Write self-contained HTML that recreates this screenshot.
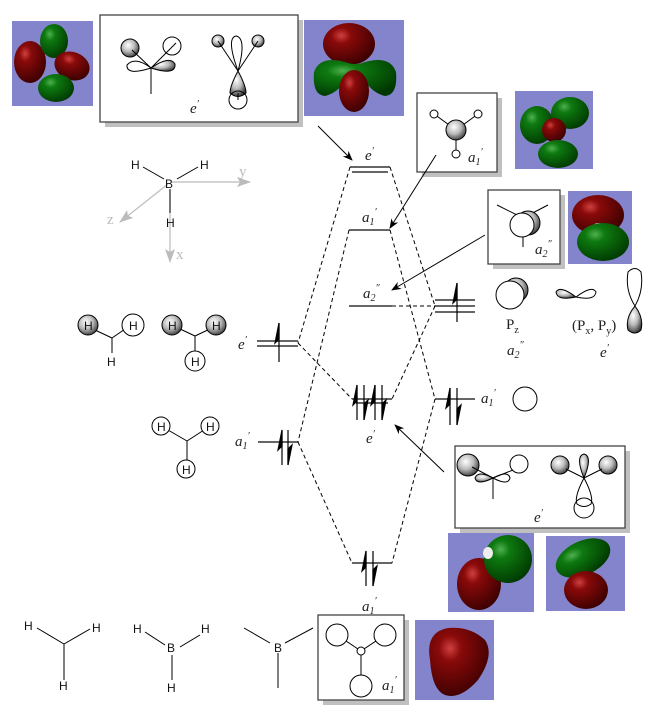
<!DOCTYPE html>
<html><head><meta charset="utf-8"><style>
html,body{margin:0;padding:0;background:#fff;width:662px;height:718px;overflow:hidden}
svg{display:block}
.it{font-family:"Liberation Serif",serif;font-style:italic;font-size:15px;fill:#222}
.rm{font-family:"Liberation Serif",serif;font-size:15px;fill:#222}
.sf{font-family:"Liberation Sans",sans-serif;font-size:12px;fill:#111}
.s{font-size:10px}
</style></head><body>
<svg width="662" height="718" viewBox="0 0 662 718" xmlns="http://www.w3.org/2000/svg">
<defs>
<radialGradient id="rd" cx="35%" cy="30%" r="75%"><stop offset="0" stop-color="#d04040"/><stop offset="0.25" stop-color="#8a0a0a"/><stop offset="1" stop-color="#3a0000"/></radialGradient>
<radialGradient id="gr" cx="35%" cy="30%" r="75%"><stop offset="0" stop-color="#50b050"/><stop offset="0.25" stop-color="#0e7a10"/><stop offset="1" stop-color="#003800"/></radialGradient>
<radialGradient id="gy" cx="40%" cy="35%" r="70%"><stop offset="0" stop-color="#fff"/><stop offset="0.5" stop-color="#bbb"/><stop offset="1" stop-color="#333"/></radialGradient>
<marker id="ah" markerWidth="10" markerHeight="8" refX="9" refY="4" orient="auto" markerUnits="userSpaceOnUse"><path d="M0,0 L10,4 L0,8 L3,4Z" fill="#000"/></marker>
<marker id="ag" markerWidth="14" markerHeight="10" refX="13" refY="5" orient="auto" markerUnits="userSpaceOnUse"><path d="M0,0 L14,5 L0,10 L3,5Z" fill="#bbb"/></marker>
</defs>

<rect x="12" y="21" width="81" height="85" fill="#8484cc"/>
<ellipse cx="30" cy="62" rx="16" ry="21" fill="url(#rd)"/>
<ellipse cx="54" cy="41" rx="14" ry="17" fill="url(#gr)"/>
<ellipse cx="72" cy="66" rx="18" ry="14" transform="rotate(20 72 66)" fill="url(#rd)"/>
<ellipse cx="56" cy="88" rx="18" ry="14" fill="url(#gr)"/>

<rect x="304" y="20" width="100" height="96" fill="#8484cc"/>
<ellipse cx="349" cy="44" rx="26" ry="21" fill="url(#rd)"/>
<path d="M314,72 Q320,55 345,62 Q355,66 365,62 Q390,55 396,72 Q398,95 385,96 Q370,92 364,78 L346,78 Q340,92 325,96 Q312,95 314,72Z" fill="url(#gr)"/>
<ellipse cx="354" cy="91" rx="15" ry="21" fill="url(#rd)"/>

<rect x="515" y="91" width="78" height="78" fill="#8484cc"/>
<ellipse cx="537" cy="125" rx="17" ry="19" fill="url(#gr)"/>
<ellipse cx="570" cy="113" rx="19" ry="16" fill="url(#gr)"/>
<ellipse cx="554" cy="130" rx="12" ry="12" fill="url(#rd)"/>
<ellipse cx="558" cy="154" rx="20" ry="14" fill="url(#gr)"/>

<rect x="568" y="191" width="64" height="73" fill="#8484cc"/>
<ellipse cx="598" cy="215" rx="26" ry="20" fill="url(#rd)"/>
<ellipse cx="598" cy="227" rx="5" ry="4" fill="#ddd"/>
<ellipse cx="603" cy="242" rx="26" ry="19" fill="url(#gr)"/>

<rect x="448" y="533" width="86" height="79" fill="#8484cc"/>
<ellipse cx="479" cy="584" rx="22" ry="26" fill="url(#rd)"/>
<ellipse cx="508" cy="559" rx="24" ry="24" fill="url(#gr)"/>
<ellipse cx="488" cy="553" rx="5" ry="6" fill="#eee"/>
<rect x="546" y="536" width="79" height="75" fill="#8484cc"/>
<ellipse cx="583" cy="558" rx="29" ry="17" transform="rotate(-25 583 558)" fill="url(#gr)"/>
<ellipse cx="586" cy="590" rx="22" ry="19" fill="url(#rd)"/>

<rect x="415" y="620" width="79" height="80" fill="#8484cc"/>
<path d="M430,660 Q425,632 448,628 Q470,626 485,640 Q495,655 478,680 Q460,700 445,695 Q432,690 430,660Z" fill="url(#rd)"/>

<g fill="#c0c0c0">
<rect x="105" y="20" width="198" height="107"/>
<rect x="422" y="98" width="80" height="79"/>
<rect x="493" y="195" width="72" height="74"/>
<rect x="460" y="451" width="170" height="82"/>
<rect x="323" y="620" width="86" height="85"/>
</g>
<g fill="#fff" stroke="#444" stroke-width="1.3">
<rect x="100" y="15" width="198" height="107"/>
<rect x="417" y="93" width="80" height="79"/>
<rect x="488" y="190" width="72" height="74"/>
<rect x="455" y="446" width="170" height="82"/>
<rect x="318" y="615" width="86" height="85"/>
</g>

<g stroke="#000" stroke-width="1" fill="none">
<circle cx="130" cy="48" r="9" fill="url(#gy)"/>
<circle cx="172" cy="46" r="9"/>
<line x1="132" y1="50" x2="151" y2="68"/><line x1="151" y1="68" x2="176" y2="43"/>
<line x1="151" y1="68" x2="151" y2="94"/>
<path d="M151,68 Q135,56 127,65 Q126,76 151,68Z"/>
<path d="M151,68 Q170,55 175,64 Q176,76 151,68Z" fill="url(#gy)"/>
<circle cx="218" cy="41" r="6" fill="url(#gy)"/><circle cx="258" cy="41" r="6" fill="url(#gy)"/>
<line x1="218" y1="41" x2="238" y2="71"/><line x1="258" y1="41" x2="238" y2="71"/>
<path d="M238,71 Q226,38 236,36 Q247,38 238,71Z"/>
<path d="M238,71 Q230,86 230,93 Q238,100 246,93 Q246,86 238,71Z" fill="url(#gy)"/>
<circle cx="238" cy="100" r="9"/><line x1="238" y1="93" x2="238" y2="100"/>
</g>
<text x="190" y="113" class="it">e<tspan class="s" dy="-6">′</tspan></text>

<g stroke="#000" stroke-width="1" fill="none">
<line x1="434" y1="114" x2="456" y2="130"/><line x1="478" y1="114" x2="456" y2="130"/><line x1="456" y1="130" x2="456" y2="152"/>
<circle cx="434" cy="114" r="4" fill="#fff"/><circle cx="478" cy="114" r="4" fill="#fff"/><circle cx="456" cy="154" r="4" fill="#fff"/>
<circle cx="456" cy="130" r="10" fill="url(#gy)"/>
</g>
<text x="468" y="162" class="it">a<tspan class="s" dy="3">1</tspan><tspan class="s" dy="-10">′</tspan></text>

<g stroke="#000" stroke-width="1" fill="none">
<line x1="497" y1="205" x2="523" y2="218"/><line x1="548" y1="205" x2="523" y2="218"/><line x1="523" y1="218" x2="523" y2="247"/>
<ellipse cx="528" cy="223" rx="12" ry="12" fill="url(#gy)"/>
<circle cx="522" cy="225" r="12" fill="#fff"/>
</g>
<text x="535" y="254" class="it">a<tspan class="s" dy="3">2</tspan><tspan class="s" dy="-10">″</tspan></text>

<g stroke="#000" stroke-width="1" fill="none">
<circle cx="468" cy="465" r="11" fill="url(#gy)"/><circle cx="519" cy="464" r="9"/>
<line x1="472" y1="467" x2="493" y2="478"/><line x1="493" y1="478" x2="513" y2="470"/><line x1="493" y1="478" x2="493" y2="499"/>
<path d="M493,478 Q478,470 475,478 Q477,486 493,478Z" fill="url(#gy)"/>
<path d="M493,478 Q508,470 510,478 Q508,486 493,478Z"/>
<circle cx="560" cy="465" r="9" fill="url(#gy)"/><circle cx="608" cy="465" r="9" fill="url(#gy)"/>
<line x1="566" y1="469" x2="584" y2="478"/><line x1="602" y1="469" x2="584" y2="478"/>
<path d="M584,478 Q575,456 584,454 Q593,456 584,478Z" fill="url(#gy)"/>
<path d="M584,478 Q574,497 577,504 Q584,509 591,504 Q594,497 584,478Z"/>
<circle cx="584" cy="508" r="10"/>
</g>
<text x="534" y="522" class="it">e<tspan class="s" dy="-6">′</tspan></text>

<g stroke="#000" stroke-width="1" fill="none">
<line x1="337" y1="635" x2="361" y2="651"/><line x1="385" y1="635" x2="361" y2="651"/><line x1="361" y1="651" x2="361" y2="675"/>
<circle cx="337" cy="635" r="11" fill="#fff"/><circle cx="385" cy="635" r="11" fill="#fff"/><circle cx="361" cy="686" r="11" fill="#fff"/>
<circle cx="361" cy="651" r="4" fill="#fff"/>
</g>
<text x="382" y="690" class="it">a<tspan class="s" dy="3">1</tspan><tspan class="s" dy="-10">′</tspan></text>

<g stroke="#bbb" stroke-width="1.2">
<line x1="172" y1="182" x2="250" y2="182" marker-end="url(#ag)"/>
<line x1="168" y1="184" x2="120" y2="222" marker-end="url(#ag)"/>
<line x1="170" y1="190" x2="170" y2="262" marker-end="url(#ag)"/>
</g>
<text x="239" y="176" class="rm" style="fill:#bbb">y</text>
<text x="107" y="224" class="rm" style="fill:#bbb">z</text>
<text x="176" y="259" class="rm" style="fill:#bbb">x</text>
<g stroke="#000" stroke-width="1"><line x1="143" y1="167" x2="164" y2="179"/><line x1="198" y1="167" x2="177" y2="179"/><line x1="170" y1="189" x2="170" y2="213"/></g>
<text x="165" y="188" class="sf">B</text><text x="131" y="169" class="sf">H</text><text x="200" y="169" class="sf">H</text><text x="166" y="227" class="sf">H</text>

<g stroke="#000" stroke-width="1" fill="none">
<line x1="95" y1="330" x2="112" y2="338"/><line x1="112" y1="338" x2="128" y2="327"/><line x1="112" y1="338" x2="112" y2="353"/>
<circle cx="88" cy="325" r="10" fill="url(#gy)"/><circle cx="133" cy="325" r="11" fill="#fff"/>
<line x1="178" y1="328" x2="195" y2="336"/><line x1="195" y1="336" x2="212" y2="328"/><line x1="195" y1="336" x2="195" y2="352"/>
<circle cx="172" cy="325" r="10" fill="url(#gy)"/><circle cx="216" cy="325" r="10" fill="url(#gy)"/><circle cx="195" cy="361" r="10" fill="#fff"/>
<line x1="168" y1="430" x2="187" y2="441"/><line x1="187" y1="441" x2="204" y2="430"/><line x1="187" y1="441" x2="187" y2="460"/>
<circle cx="161" cy="426" r="9" fill="#fff"/><circle cx="210" cy="426" r="9" fill="#fff"/><circle cx="186" cy="469" r="9" fill="#fff"/>
</g>
<g class="sf"><text x="84" y="330">H</text><text x="129" y="330">H</text><text x="107" y="366">H</text>
<text x="168" y="330">H</text><text x="212" y="330">H</text><text x="191" y="366">H</text>
<text x="157" y="431">H</text><text x="206" y="431">H</text><text x="182" y="474">H</text></g>

<g stroke="#000" stroke-width="1">
<line x1="37" y1="628" x2="64" y2="644"/><line x1="64" y1="644" x2="90" y2="629"/><line x1="64" y1="644" x2="64" y2="680"/>
<line x1="145" y1="632" x2="165" y2="645"/><line x1="180" y1="647" x2="200" y2="635"/><line x1="172" y1="655" x2="172" y2="680"/>
<line x1="244" y1="628" x2="270" y2="643"/><line x1="285" y1="643" x2="313" y2="628"/><line x1="278" y1="653" x2="278" y2="688"/>
</g>
<g class="sf"><text x="24" y="630">H</text><text x="92" y="632">H</text><text x="59" y="690">H</text>
<text x="133" y="633">H</text><text x="201" y="633">H</text><text x="167" y="652">B</text><text x="167" y="692">H</text>
<text x="274" y="652">B</text></g>
<text x="362" y="611" class="it">a<tspan class="s" dy="3">1</tspan><tspan class="s" dy="-10">′</tspan></text>

<g stroke="#000" stroke-width="1">
<circle cx="516" cy="290" r="12" fill="url(#gy)"/>
<circle cx="510" cy="295" r="14" fill="#fff"/>
<path d="M576,297 Q560,285 556,292 Q557,301 576,297Z" fill="url(#gy)"/>
<path d="M576,297 Q592,285 596,292 Q595,301 576,297Z" fill="none"/>
<path d="M635,306 Q625,290 628,272 Q635,265 641,272 Q644,290 635,306Z" fill="none"/>
<path d="M635,306 Q625,318 628,330 Q635,336 641,330 Q644,318 635,306Z" fill="url(#gy)"/>
<circle cx="525" cy="399" r="12" fill="#fff"/>
</g>
<text x="506" y="329" class="rm">P<tspan class="s" dy="4">z</tspan></text>
<text x="572" y="330" class="rm" font-size="14">(P<tspan class="s" dy="4">x</tspan><tspan dy="-4">, P</tspan><tspan class="s" dy="4">y</tspan><tspan dy="-4">)</tspan></text>
<text x="507" y="355" class="it">a<tspan class="s" dy="3">2</tspan><tspan class="s" dy="-10">″</tspan></text>
<text x="600" y="357" class="it">e<tspan class="s" dy="-6">′</tspan></text>

<g stroke="#666" stroke-width="2">
<line x1="350" y1="167" x2="390" y2="167"/><line x1="352" y1="172" x2="388" y2="172"/>
<line x1="349" y1="230" x2="390" y2="230"/>
<line x1="349" y1="306" x2="392" y2="306"/>
<line x1="435" y1="300" x2="475" y2="300"/><line x1="435" y1="306" x2="475" y2="306"/><line x1="435" y1="312" x2="475" y2="312"/>
<line x1="257" y1="341" x2="298" y2="341"/><line x1="257" y1="346" x2="298" y2="346"/>
<line x1="352" y1="399" x2="392" y2="399"/><line x1="356" y1="403" x2="388" y2="403"/>
<line x1="435" y1="399" x2="475" y2="399"/>
<line x1="258" y1="442" x2="298" y2="442"/>
<line x1="352" y1="563" x2="392" y2="563"/>
</g>

<g stroke="#000" stroke-width="1" stroke-dasharray="4,3" fill="none">
<line x1="350" y1="167" x2="298" y2="343"/>
<line x1="390" y1="167" x2="435" y2="306"/>
<line x1="349" y1="230" x2="298" y2="442"/>
<line x1="390" y1="230" x2="435" y2="399"/>
<line x1="392" y1="306" x2="435" y2="306"/>
<line x1="298" y1="343" x2="352" y2="399"/>
<line x1="435" y1="306" x2="392" y2="399"/>
<line x1="298" y1="442" x2="352" y2="563"/>
<line x1="435" y1="399" x2="392" y2="563"/>
</g>

<g stroke="#000" stroke-width="1.2" fill="#000">
<line x1="457" y1="283" x2="457" y2="322"/><path d="M457,283 L453,303 L457,299Z"/>
<line x1="279" y1="323" x2="279" y2="362"/><path d="M279,323 L275,343 L279,339Z"/>
<line x1="282" y1="430" x2="282" y2="465"/><path d="M282,430 L278,450 L282,446Z"/>
<line x1="288" y1="430" x2="288" y2="465"/><path d="M288,465 L292,445 L288,449Z"/>
<line x1="450" y1="388" x2="450" y2="425"/><path d="M450,388 L446,408 L450,404Z"/>
<line x1="457" y1="388" x2="457" y2="425"/><path d="M457,425 L461,405 L457,409Z"/>
<line x1="366" y1="551" x2="366" y2="586"/><path d="M366,551 L362,571 L366,567Z"/>
<line x1="373" y1="551" x2="373" y2="586"/><path d="M373,586 L377,566 L373,570Z"/>
<line x1="357" y1="385" x2="357" y2="420"/><path d="M357,385 L353,405 L357,401Z"/>
<line x1="364" y1="385" x2="364" y2="420"/><path d="M364,420 L368,400 L364,404Z"/>
<line x1="375" y1="385" x2="375" y2="420"/><path d="M375,385 L371,405 L375,401Z"/>
<line x1="382" y1="385" x2="382" y2="420"/><path d="M382,420 L386,400 L382,404Z"/>
</g>

<text x="365" y="160" class="it">e<tspan class="s" dy="-6">′</tspan></text>
<text x="362" y="222" class="it">a<tspan class="s" dy="3">1</tspan><tspan class="s" dy="-10">′</tspan></text>
<text x="363" y="298" class="it">a<tspan class="s" dy="3">2</tspan><tspan class="s" dy="-10">″</tspan></text>
<text x="238" y="349" class="it">e<tspan class="s" dy="-6">′</tspan></text>
<text x="366" y="443" class="it">e<tspan class="s" dy="-6">′</tspan></text>
<text x="481" y="403" class="it">a<tspan class="s" dy="3">1</tspan><tspan class="s" dy="-10">′</tspan></text>
<text x="235" y="446" class="it">a<tspan class="s" dy="3">1</tspan><tspan class="s" dy="-10">′</tspan></text>

<g stroke="#000" stroke-width="1">
<line x1="318" y1="126" x2="352" y2="160" marker-end="url(#ah)"/>
<line x1="436" y1="155" x2="390" y2="228" marker-end="url(#ah)"/>
<line x1="485" y1="235" x2="392" y2="290" marker-end="url(#ah)"/>
<line x1="444" y1="472" x2="395" y2="425" marker-end="url(#ah)"/>
</g>
</svg>
</body></html>
